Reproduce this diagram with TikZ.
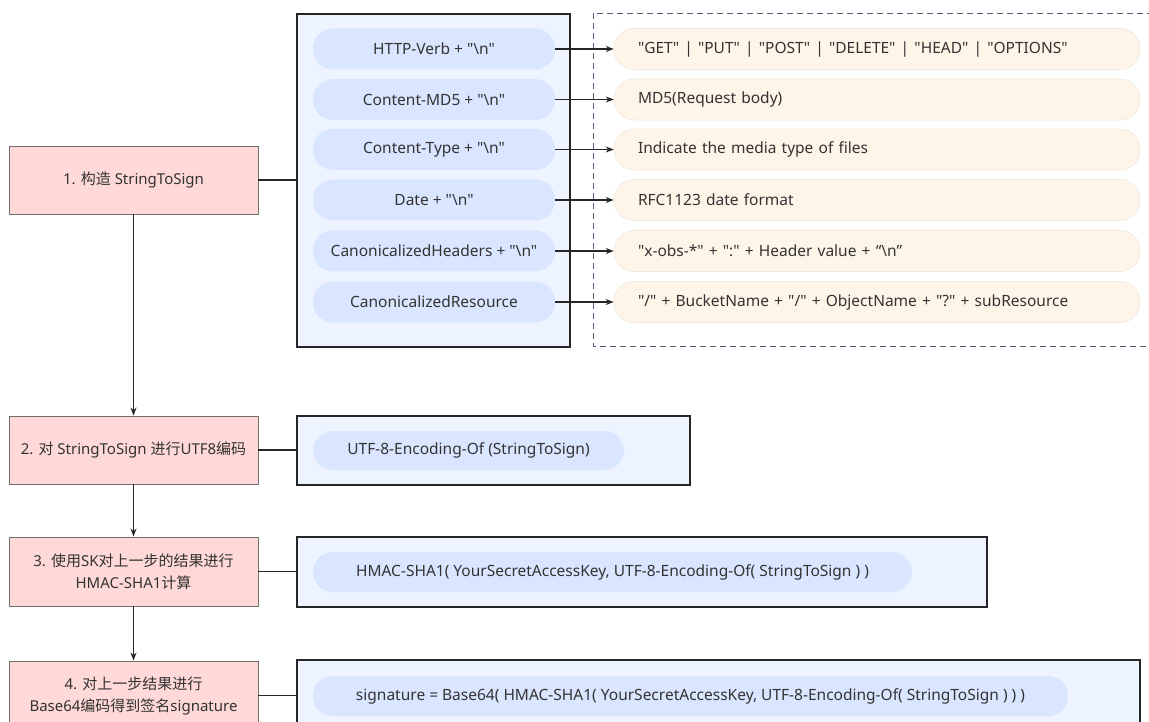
\documentclass[tikz,border=0pt]{standalone}
\usepackage{fontspec}
\setmainfont{Noto Sans}[Ligatures=TeXOff]
\newfontfamily\cjk{Noto Sans CJK SC}[Ligatures=TeXOff]
\usetikzlibrary{arrows.meta}
\definecolor{stepfill}{HTML}{FFD8D8}
\definecolor{stepdraw}{HTML}{707070}
\definecolor{boxfill}{HTML}{EDF3FF}
\definecolor{pillblue}{HTML}{DAE5FF}
\definecolor{pillorange}{HTML}{FFF4E8}
\definecolor{pillorangedraw}{HTML}{EEE8E0}
\definecolor{dashcol}{HTML}{5A5F80}
\definecolor{txt}{HTML}{333333}
\tikzset{
  stepbox/.style={draw=stepdraw, line width=0.9pt, fill=stepfill, minimum width=249pt, align=center, text=txt, font=\fontsize{15}{22}\selectfont},
  bigbox/.style={draw=black!85, line width=1.8pt, fill=boxfill},
  bluepill/.style={fill=pillblue, rounded corners=20pt, text=txt, font=\fontsize{15.5}{18}\selectfont},
  orangepill/.style={draw=pillorangedraw, line width=0.6pt, fill=pillorange, rounded corners=20pt, minimum width=526pt, minimum height=41pt, text width=478pt, inner xsep=24pt, align=left, text=txt, font=\fontsize{15.5}{18}\selectfont},
  link/.style={draw=black!85, line width=1.5pt},
  arr/.style={draw=black!85, line width=1.2pt, -{Stealth[length=8pt,width=6pt]}},
}
\begin{document}
\begin{tikzpicture}[x=1pt,y=-1pt]
\useasboundingbox (0,0) rectangle (1149,722);
% step 1 and its box
\node[stepbox, minimum height=68pt] (s1) at (133.5,180) {1. {\cjk 构造} StringToSign};
\node[bigbox, minimum width=273pt, minimum height=333pt] (b1) at (433.5,180.5) {};
\draw[dashcol, line width=0.8pt, dash pattern=on 6pt off 4pt] (593,13) rectangle (1165,346);
\foreach \i/\y/\l/\r in {
  1/49/{HTTP-Verb + "\textbackslash n"}/{"GET" | "PUT" | "POST" | "DELETE" | "HEAD" | "OPTIONS"},
  2/99.5/{Content-MD5 + "\textbackslash n"}/{MD5(Request body)},
  3/149.5/{Content-Type + "\textbackslash n"}/{Indicate the media type of files},
  4/200/{Date + "\textbackslash n"}/{RFC1123 date format},
  5/251/{CanonicalizedHeaders + "\textbackslash n"}/{"x-obs-*" + ":" + Header value + “\textbackslash n”},
  6/302/{CanonicalizedResource}/{"/" + BucketName + "/" + ObjectName + "?" + subResource}}{
  \node[bluepill, minimum width=242pt, minimum height=41pt] (l\i) at (434,\y) {\l};
  \node[orangepill] (r\i) at (877,\y) {\r};
  \draw[arr] (l\i.east) -- (r\i.west);
}
\draw[link] (s1.east) -- (s1.east -| b1.west);
% step 2
\node[stepbox, minimum height=68pt] (s2) at (133.5,450) {2. {\cjk 对} StringToSign {\cjk 进行}UTF8{\cjk 编码}};
\node[bigbox, minimum width=393pt, minimum height=69pt] (b2) at (493.5,450.5) {};
\node[bluepill, minimum width=311pt, minimum height=39pt] (p2) at (468.5,450.5) {UTF-8-Encoding-Of (StringToSign)};
\draw[link] (s2.east) -- (s2.east -| b2.west);
% step 3
\node[stepbox, minimum height=69pt] (s3) at (133.5,571.5) {3. {\cjk 使用}SK{\cjk 对上一步的结果进行}\\HMAC-SHA1{\cjk 计算}};
\node[bigbox, minimum width=690pt, minimum height=70pt] (b3) at (642,572) {};
\node[bluepill, minimum width=599pt, minimum height=40pt] (p3) at (612.5,572) {HMAC-SHA1( YourSecretAccessKey, UTF-8-Encoding-Of( StringToSign ) )};
\draw[link] (s3.east) -- (s3.east -| b3.west);
% step 4
\node[stepbox, minimum height=69pt] (s4) at (133.5,695.5) {4. {\cjk 对上一步结果进行}\\Base64{\cjk 编码得到签名}signature};
\node[bigbox, minimum width=843pt, minimum height=70pt] (b4) at (718.5,695) {};
\node[bluepill, minimum width=755pt, minimum height=40pt] (p4) at (690.5,696) {signature = Base64( HMAC-SHA1( YourSecretAccessKey, UTF-8-Encoding-Of( StringToSign ) ) )};
\draw[link] (s4.east) -- (s4.east -| b4.west);
% vertical arrows
\draw[arr] (s1.south) -- (s2.north);
\draw[arr] (s2.south) -- (s3.north);
\draw[arr] (s3.south) -- (s4.north);
\end{tikzpicture}
\end{document}
